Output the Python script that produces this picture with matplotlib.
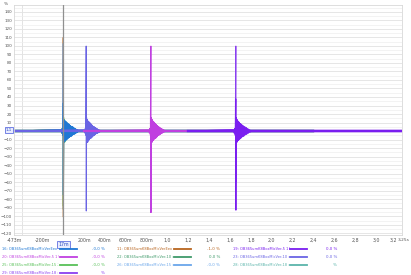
import matplotlib
matplotlib.use("Agg")
import matplotlib.pyplot as plt
from matplotlib.lines import Line2D

plt.rcParams['font.family'] = ['DejaVu Sans']

# series: legend label, colour, value text, spike time (s), peak, trough, trace window
names = ["16: OB365umK8BoxMicVerEex", "20: OB365umK8BoxMicVer-5 1!",
         "25: OB365umK8BoxMicVer-15 ;", "29: OB365umK8BoxMicVer-18 :",
         "11: OB365umK8BoxMicVerEex", "22: OB365umK8BoxMicVer-10 :",
         "26: OB365umK8BoxMicVer-15 :", "19: OB365umK8BoxMicVer-5 1!",
         "23: OB365umK8BoxMicVer-10 :", "28: OB365umK8BoxMicVer-18 :"]
colors = ["#1f78d4", "#c040e0", "#58c058", "#8a3ff0",
          "#b8641e", "#3f9a6a", "#6aa6ea", "#7a1ef0",
          "#6a64e4", "#5ab4aa"]
values = ["-0,0 %", "-0,0 %", "-0,0 %", "%",
          "-1,0 %", "0,0 %", "-0,0 %", "0,0 %",
          "0,0 %", "%"]
spike_t = [0.0, 0.84, 0.0, 1.655, 0.0, 0.0, 0.0, 1.655, 0.22, 0.0]
peaks = [33, 100, 15, 100, 110, 12, 103, 38, 100, 10]
troughs = [-75, -96, -88, -60, -101, -92, -70, -93, -94, -50]
win_start = [-0.473, 0.2, -0.473, 1.2, -0.473, -0.473, -0.473, 1.2, -0.473, -0.473]
win_end = [2.4, 3.25, 2.4, 3.25, 2.4, 2.4, 2.4, 3.25, 3.25, 2.4]
tail_kind = ["A", "C", "C", "A", "B", "B", "A", "C", "C", "B"]

# hand-read ringing around each spike (offset s, value)
pre_off = [-0.020, -0.014, -0.008, -0.004]
pre_val = [1.5, -2.5, 3.5, -5]
tail_off = [0.003 + 0.004 * k for k in range(39)]
tails = {
    "A": [14, -13, 13, -12, 12, -11, 11, -10.5, 10, -9.5, 9, -8.5, 8.5, -8,
          7.5, -7, 7, -6.5, 6, -6, 5.5, -5, 5, -4.5, 4.5, -4, 3.5, -3.5, 3,
          -2.8, 2.5, -2.2, 2, -1.7, 1.4, -1.1, 0.8, -0.5, 0.3],
    "B": [12, -11, 11, -10, 10, -9.5, 9, -8.5, 8, -7.5, 7.5, -7, 6.5, -6, 6,
          -5.5, 5, -5, 4.5, -4.5, 4, -3.8, 3.5, -3.2, 3, -2.7, 2.5, -2.2, 2,
          -1.8, 1.6, -1.4, 1.2, -1, 0.8, -0.6, 0.5, -0.3, 0.2],
    "C": [16, -14, 14, -13, 12, -11.5, 11, -10, 10, -9, 9, -8.5, 8, -7.5, 7,
          -6.5, 6, -5.5, 5.5, -5, 4.5, -4.5, 4, -3.5, 3.5, -3, 2.8, -2.5, 2.2,
          -2, 1.7, -1.4, 1.2, -1, 0.8, -0.6, 0.4, -0.3, 0.2],
}
draw_order = [5, 2, 9, 4, 6, 0, 8, 1, 3, 7]

xtick_pos = [-0.473, -0.2, 0.2, 0.4, 0.6, 0.8, 1.0, 1.2, 1.4, 1.6, 1.8,
             2.0, 2.2, 2.4, 2.6, 2.8, 3.0, 3.2, 3.25]
xtick_lab = ["-473m", "-200m", "200m", "400m", "600m", "800m", "1,0", "1,2",
             "1,4", "1,6", "1,8", "2,0", "2,2", "2,4", "2,6", "2,8", "3,0",
             "3,2", ""]
ytick_pos = [v for v in range(-120, 150, 10) if v != 0]

fig = plt.figure(figsize=(4.11, 2.75), dpi=100)
ax = fig.add_axes([14 / 411, 1 - 235 / 275, 388 / 411, 230 / 275])
ax.set_xlim(-0.473, 3.25)
ax.set_ylim(-122, 148)

for i in draw_order:
    t0 = spike_t[i]
    xs = [win_start[i]] + [t0 + o for o in pre_off] + [t0, t0 + 0.001]
    ys = [0] + pre_val + [peaks[i], troughs[i]]
    xs += [t0 + o for o in tail_off] + [t0 + 0.17, win_end[i]]
    ys += tails[tail_kind[i]] + [0, 0]
    ax.plot(xs, ys, color=colors[i], lw=0.8, solid_joinstyle='miter')
    ax.plot([win_start[i], win_end[i]], [0, 0], color=colors[i], lw=1.6)

# cursor
ax.axvline(0.0, color="#909090", lw=0.9, zorder=5)

ax.set_xticks(xtick_pos)
ax.set_xticklabels(xtick_lab)
ax.set_xticks([x / 10 for x in range(-4, 33, 2)], minor=True)
ax.set_yticks(ytick_pos)
ax.set_yticks(range(-120, 150, 5), minor=True)
ax.tick_params(which="both", length=0, labelsize=3.4, labelcolor="#555555", pad=2)
ax.tick_params(axis="y", labelsize=3.0, pad=1.5)
ax.get_xticklabels()[-2].set_ha("right")
ax.grid(False)
ax.grid(True, which="minor", axis="x", color="#dedede", lw=0.6)
ax.grid(True, which="major", axis="y", color="#e2e2e2", lw=0.6)
ax.grid(True, which="minor", axis="y", color="#eeeeee", lw=0.5)
ax.set_axisbelow(True)
for s in ax.spines.values():
    s.set_color("#d8d8d8")
    s.set_linewidth(0.6)

# end label and cursor value boxes
fig.text(398 / 411, 1 - 240 / 275, "3,25s", fontsize=3.1, color="#555555",
         ha="left", va="center")
ax.text(-0.006, 1.1, "1,1", transform=ax.get_yaxis_transform(), ha="right", va="center",
        fontsize=3.0, color="#3050c0",
        bbox=dict(boxstyle="square,pad=0.2", fc="#e8ecff", ec="#6070e0", lw=0.6))
ax.text(0.0, -0.03, "17m", transform=ax.get_xaxis_transform(), ha="center", va="top",
        fontsize=3.4, color="#3050c0",
        bbox=dict(boxstyle="square,pad=0.2", fc="#e8ecff", ec="#6070e0", lw=0.6))
fig.text(6 / 411, 1 - 4 / 275, "%", fontsize=3.2, color="#555555", ha="center", va="center")

# legend
col_x = [2, 117, 233]
line_x = [(60, 77), (174, 191), (290, 307)]
val_x = [105, 220, 337]
row_y = [249, 257, 265, 273]
slots = [(0, 0), (0, 1), (0, 2), (0, 3), (1, 0), (1, 1), (1, 2), (2, 0), (2, 1), (2, 2)]
for i, (c, r) in enumerate(slots):
    y = 1 - row_y[r] / 275
    fig.text(col_x[c] / 411, y, names[i], fontsize=2.65, color=colors[i], va="center")
    fig.add_artist(Line2D([line_x[c][0] / 411, line_x[c][1] / 411], [y, y],
                          color=colors[i], lw=1.3, transform=fig.transFigure))
    fig.text(val_x[c] / 411, y, values[i], fontsize=2.9, color=colors[i],
             va="center", ha="right")

fig.savefig("out.png", dpi=100, facecolor="white")
